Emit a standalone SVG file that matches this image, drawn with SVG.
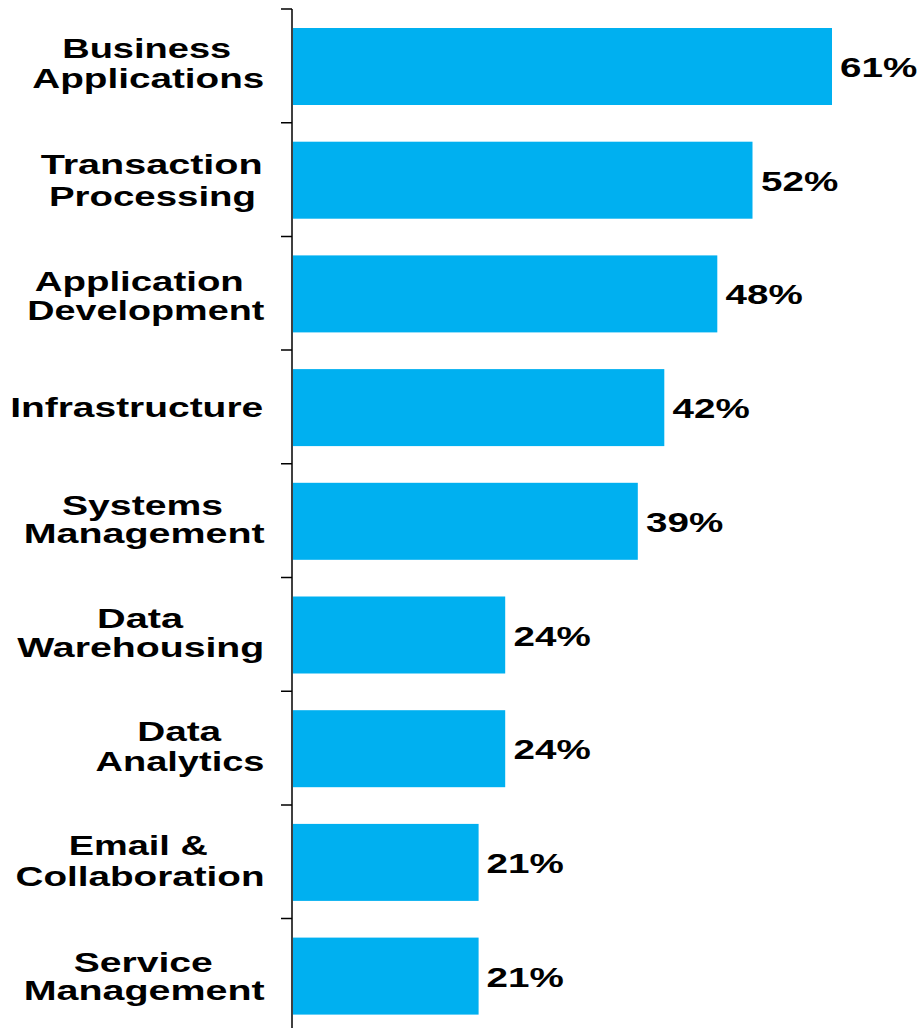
<svg xmlns="http://www.w3.org/2000/svg" width="922" height="1028" viewBox="0 0 922 1028">
<style>
.bar{fill:#00B0F0}
.lbl{font-family:"Liberation Sans",Arial,sans-serif;font-weight:bold;font-size:27px;fill:#000;text-anchor:middle}
.val{font-family:"Liberation Sans",Arial,sans-serif;font-weight:bold;font-size:27px;fill:#000;text-anchor:start}
.ax{stroke:#000;stroke-width:1.5;fill:none}
</style>
<rect width="922" height="1028" fill="#fff"/>
<g id="axis">
<line class="ax" x1="292" y1="9" x2="292" y2="1028"/>
<path class="ax" d="M281 9H292M281 122.7H292M281 236.4H292M281 350.1H292M281 463.8H292M281 577.5H292M281 691.2H292M281 804.9H292M281 918.6H292"/>
</g>
<g id="bar1">
<rect class="bar" x="293" y="28" width="539" height="77"/>
<text class="lbl" x="146.7" y="58.3" textLength="169" lengthAdjust="spacingAndGlyphs">Business</text>
<text class="lbl" x="148.3" y="88" textLength="232" lengthAdjust="spacingAndGlyphs">Applications</text>
<text class="val" transform="translate(840,77) scale(1.43,1)">61%</text>
</g>
<g id="bar2">
<rect class="bar" x="293" y="141.7" width="459.5" height="77"/>
<text class="lbl" x="151.7" y="174" textLength="222" lengthAdjust="spacingAndGlyphs">Transaction</text>
<text class="lbl" x="152.5" y="205.5" textLength="207" lengthAdjust="spacingAndGlyphs">Processing</text>
<text class="val" transform="translate(761,190.7) scale(1.43,1)">52%</text>
</g>
<g id="bar3">
<rect class="bar" x="293" y="255.4" width="424.3" height="77"/>
<text class="lbl" x="139.3" y="290.7" textLength="209" lengthAdjust="spacingAndGlyphs">Application</text>
<text class="lbl" x="145.8" y="320" textLength="237" lengthAdjust="spacingAndGlyphs">Development</text>
<text class="val" transform="translate(725.5,304.4) scale(1.43,1)">48%</text>
</g>
<g id="bar4">
<rect class="bar" x="293" y="369.1" width="371.3" height="77"/>
<text class="lbl" x="136.7" y="417" textLength="253" lengthAdjust="spacingAndGlyphs">Infrastructure</text>
<text class="val" transform="translate(672.5,418.1) scale(1.43,1)">42%</text>
</g>
<g id="bar5">
<rect class="bar" x="293" y="482.8" width="344.8" height="77"/>
<text class="lbl" x="142.5" y="515" textLength="161" lengthAdjust="spacingAndGlyphs">Systems</text>
<text class="lbl" x="144.2" y="543.3" textLength="241" lengthAdjust="spacingAndGlyphs">Management</text>
<text class="val" transform="translate(646,531.8) scale(1.43,1)">39%</text>
</g>
<g id="bar6">
<rect class="bar" x="293" y="596.5" width="212.2" height="77"/>
<text class="lbl" x="140" y="628.3" textLength="86" lengthAdjust="spacingAndGlyphs">Data</text>
<text class="lbl" x="140.8" y="656.7" textLength="247" lengthAdjust="spacingAndGlyphs">Warehousing</text>
<text class="val" transform="translate(513.5,645.5) scale(1.43,1)">24%</text>
</g>
<g id="bar7">
<rect class="bar" x="293" y="710.2" width="212.2" height="77"/>
<text class="lbl" x="179.2" y="741.3" textLength="84" lengthAdjust="spacingAndGlyphs">Data</text>
<text class="lbl" x="180" y="771.3" textLength="169" lengthAdjust="spacingAndGlyphs">Analytics</text>
<text class="val" transform="translate(513.5,759.2) scale(1.43,1)">24%</text>
</g>
<g id="bar8">
<rect class="bar" x="293" y="823.9" width="185.6" height="77"/>
<text class="lbl" x="138.3" y="855" textLength="139" lengthAdjust="spacingAndGlyphs">Email &amp;</text>
<text class="lbl" x="140" y="886" textLength="249" lengthAdjust="spacingAndGlyphs">Collaboration</text>
<text class="val" transform="translate(486.5,872.9) scale(1.43,1)">21%</text>
</g>
<g id="bar9">
<rect class="bar" x="293" y="937.6" width="185.6" height="77"/>
<text class="lbl" x="143.3" y="972" textLength="139" lengthAdjust="spacingAndGlyphs">Service</text>
<text class="lbl" x="144.2" y="1000" textLength="241" lengthAdjust="spacingAndGlyphs">Management</text>
<text class="val" transform="translate(486.5,986.6) scale(1.43,1)">21%</text>
</g>
</svg>
